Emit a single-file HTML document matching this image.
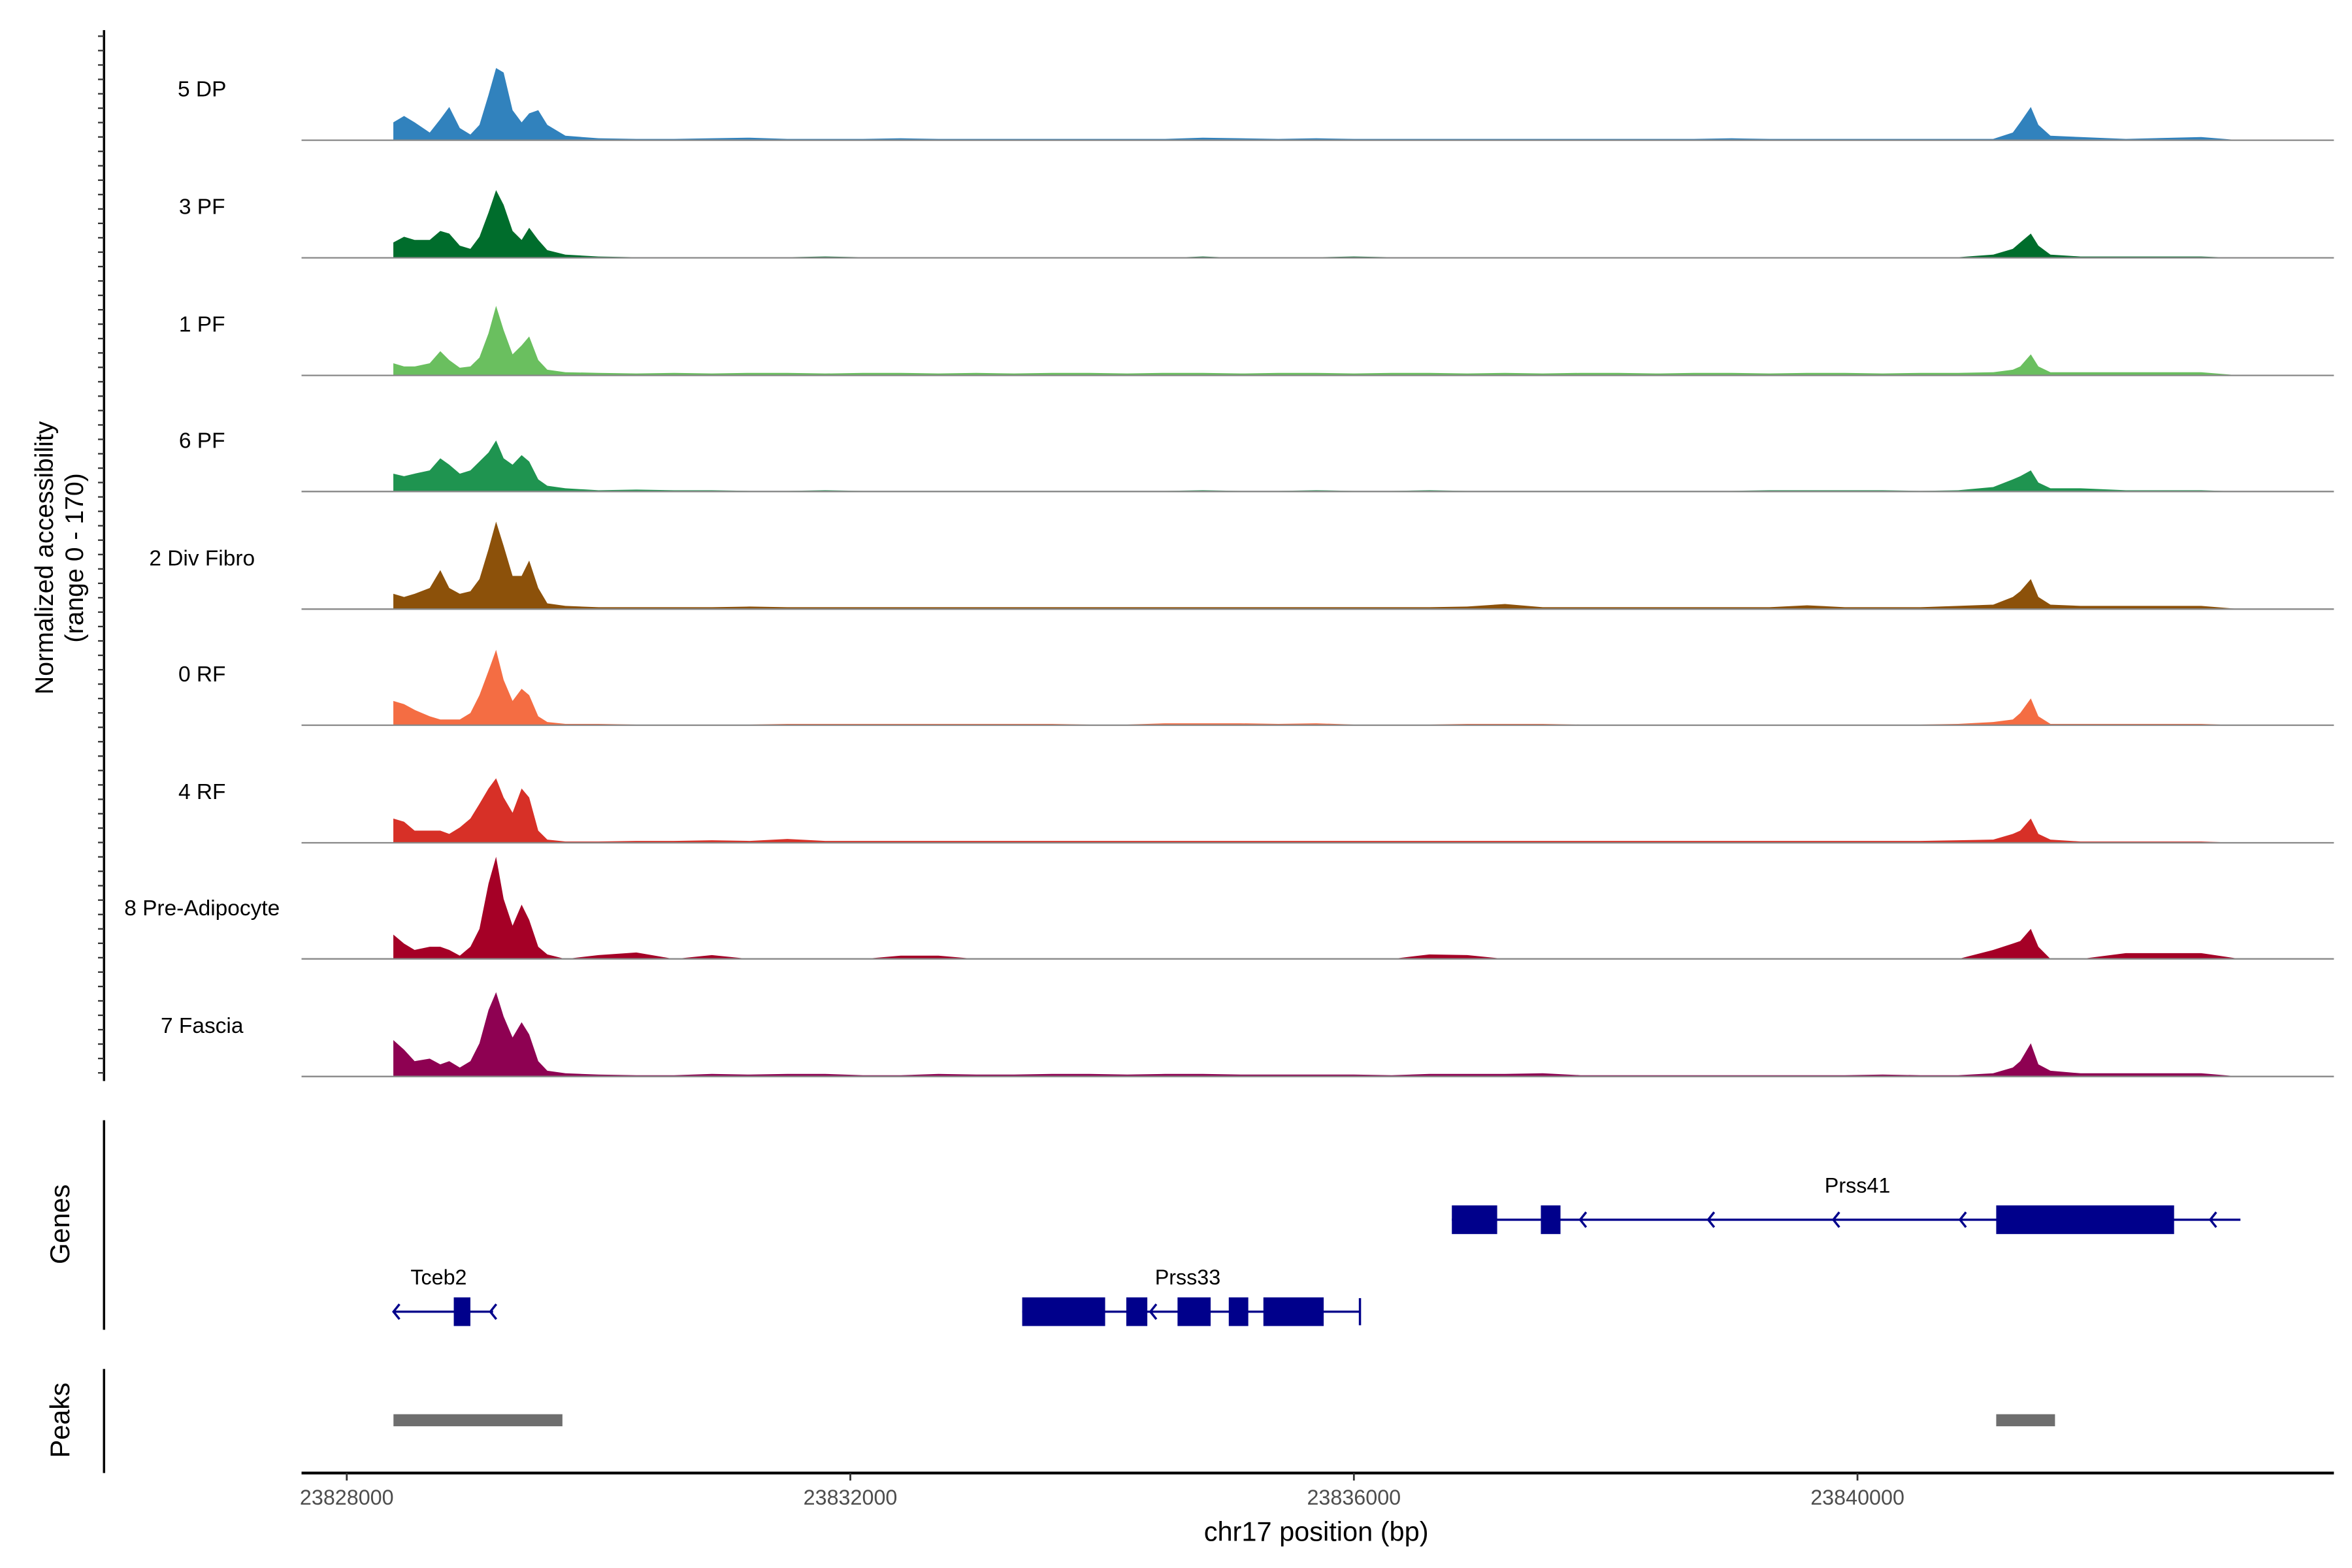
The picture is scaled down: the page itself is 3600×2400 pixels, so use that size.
<!DOCTYPE html>
<html><head><meta charset="utf-8"><style>
html,body{margin:0;padding:0;background:#fff;}
svg{display:block;font-family:"Liberation Sans",Arial,sans-serif;}
</style></head><body>
<svg id="chart" width="3600" height="2400" viewBox="0 0 1560 1040" xmlns="http://www.w3.org/2000/svg">
<rect x="0" y="0" width="1560" height="1040" fill="#fff"/>
<g id="tracks"></g>
<g id="genes"></g>
<g id="peaks"></g>
<g id="axes"></g>
</svg>
<script>
const trackNames = ["5 DP","3 PF","1 PF","6 PF","2 Div Fibro","0 RF","4 RF","8 Pre-Adipocyte","7 Fascia"];
const trackColors = ["#3182bd","#006d2c","#6abf5f","#1f9450","#8c510a","#f46d43","#d73027","#a50026","#8e0152"];
const positions = [23828370,23828455,23828539,23828659,23828743,23828814,23828898,23828982,23829054,23829126,23829186,23829246,23829317,23829389,23829449,23829521,23829593,23829737,
23830000,23830300,23830600,23830900,23831200,23831500,23831800,23832100,23832400,23832700,23833000,23833300,23833600,23833900,23834200,23834500,23834800,23835100,23835400,23835700,23836000,23836300,23836600,23836900,23837200,23837500,23837800,23838100,23838400,23838700,23839000,23839300,23839600,23839900,23840200,23840500,23840800,
23841078,23841234,23841293,23841377,23841437,23841533,23841772,23842132,23842730,23843042];
const sig5DP = [28,38,28,12,33,52,19,9,24,71,113,106,47,28,42,47,24,7,
3,2,2,3,4,2,2,2,3,2,2,2,2,2,2,2,4,3,2,3,2,2,2,2,2,2,2,2,2,2,3,2,2,2,2,2,2,
2,12,28,52,24,7,5,2,5,0];
const sig3PF = [24,33,28,28,42,38,19,14,33,71,106,83,42,28,47,28,12,5,
2,1,1,0,0,1,2,1,0,0,0,0,0,0,0,0,2,0,0,1,2,1,0,0,0,0,0,0,0,0,0,0,0,1,0,0,1,
5,14,24,38,19,5,2,2,2,0];
const sig1PF = [19,14,14,19,38,24,12,14,28,66,109,71,33,47,61,24,9,5,
4,3,4,3,4,4,3,4,4,3,4,3,4,4,3,4,4,3,4,4,3,4,4,3,4,3,4,4,3,4,4,3,4,4,3,4,4,
5,9,14,33,14,5,5,5,5,0];
const sig6PF = [28,24,28,33,52,42,28,33,47,61,80,52,42,57,47,19,9,5,
2,3,2,2,1,1,2,1,1,1,1,1,1,1,1,1,2,1,1,2,1,1,2,1,1,1,1,1,1,1,1,2,2,2,2,1,2,
7,19,24,33,14,5,5,2,2,0];
const sig2DivFibro = [24,19,24,33,61,33,24,28,47,94,137,99,52,52,76,33,9,5,
3,3,3,3,4,3,3,3,3,3,3,3,3,3,3,3,3,3,3,3,3,3,3,4,8,3,3,3,3,3,3,3,6,3,3,3,5,
7,19,28,47,19,7,5,5,5,0];
const sig0RF = [38,33,24,14,9,9,9,19,47,85,118,71,38,57,47,14,5,2,
2,1,1,1,1,2,2,2,2,2,2,2,2,1,1,3,3,3,2,3,1,1,1,2,2,2,1,1,1,1,1,1,1,1,1,1,2,
5,9,19,42,14,2,2,2,2,0];
const sig4RF = [38,33,19,19,19,14,24,38,61,85,101,71,47,85,71,19,5,2,
2,3,3,4,3,6,3,3,3,3,3,3,3,3,3,3,3,3,3,3,3,3,3,3,3,3,3,3,3,3,3,3,3,3,3,3,4,
5,14,19,38,14,5,2,2,2,0];
const sig8PreAdipocyte = [38,24,14,19,19,14,5,19,47,118,160,94,52,85,61,19,7,0,
6,10,0,6,0,0,0,0,5,5,0,0,0,0,0,0,0,0,0,0,0,0,7,6,0,0,0,0,0,0,0,0,0,0,0,0,0,
14,24,28,47,19,0,0,9,9,0];
const sig7Fascia = [57,42,24,28,19,24,14,24,52,104,132,94,61,85,66,24,9,5,
3,2,2,4,3,4,4,2,2,4,3,3,4,4,3,4,4,3,3,3,3,2,4,4,4,5,2,2,2,2,2,2,2,2,3,2,2,
5,14,24,52,19,9,5,5,5,0];
const signals = [sig5DP,sig3PF,sig1PF,sig6PF,sig2DivFibro,sig0RF,sig4RF,sig8PreAdipocyte,sig7Fascia];
const xTicks = [23828000,23832000,23836000,23840000];
const geneNames = ["Prss41","Tceb2","Prss33"];
const geneStart = [23836778,23828371,23833365];
const geneEnd = [23843042,23829162,23836048];
const geneRow = [0,1,1];
const geneLabelX = [23840000,23828730,23834680];
const exonGene = [0,0,0,1,2,2,2,2,2];
const exonStart = [23836778,23837485,23841102,23828850,23833365,23834192,23834599,23835006,23835281];
const exonEnd = [23837138,23837641,23842515,23828982,23834024,23834359,23834862,23835161,23835760];
const arrowPos = [23837797,23838814,23839808,23840814,23842802,23828371,23829140,23834383];
const peakStart = [23828371,23841102];
const peakEnd = [23829713,23841569];
const yMax = 170;

const NS="http://www.w3.org/2000/svg";
const X0=230, PXPB=334/4000;
function xs(bp){return X0+(bp-23828000)*PXPB;}
const baselines=[93,171,249,326,404,481,559,636,714];
const TH=72;
function ys(v,i){return baselines[i]-v/yMax*TH;}
function mk(tag,attrs,parent){const e=document.createElementNS(NS,tag);for(const k in attrs)e.setAttribute(k,attrs[k]);parent.appendChild(e);return e;}

const gT=document.getElementById('tracks');
signals.forEach((s,i)=>{
  let d="M"+xs(positions[0])+","+baselines[i];
  s.forEach((v,j)=>{d+=" L"+xs(positions[j]).toFixed(2)+","+ys(v,i).toFixed(2);});
  d+=" L"+xs(positions[positions.length-1])+","+baselines[i]+" Z";
  const p=mk('path',{d:d,fill:trackColors[i]},gT);
  
  
  const l=mk('line',{x1:200,x2:1548,y1:baselines[i],y2:baselines[i],stroke:'#888','stroke-width':1},gT);
  
  
  const t=mk('text',{x:134,y:baselines[i]-29,'text-anchor':'middle','font-size':14.5,fill:'#000'},gT);
  t.textContent=trackNames[i];
  
  
});

const gA=document.getElementById('axes');
function line(x1,y1,x2,y2,w,c,name){const l=mk('line',{x1:x1,y1:y1,x2:x2,y2:y2,stroke:c,'stroke-width':w},gA);return l;}
line(69,20,69,717,1.5,'#000','y-axis-line');
for(let y=24;y<=716;y+=9.55){line(65,y,69,y,1,'#333','y-axis-tick');}
line(69,743,69,882,1.5,'#000','genes-axis-line');
line(69,908,69,977,1.5,'#000','peaks-axis-line');
line(200,977,1548,977,1.8,'#000','x-axis-line');
xTicks.forEach(v=>{
  line(xs(v),977,xs(v),982,1.2,'#333','x-axis-tick');
  const t=mk('text',{x:xs(v),y:998,'text-anchor':'middle','font-size':14,fill:'#4d4d4d'},gA);
  t.textContent=String(v);
  
  
});
function rtext(x,y,txt,name,size){const t=mk('text',{x:0,y:0,transform:`translate(${x},${y}) rotate(-90)`,'text-anchor':'middle','font-size':size,fill:'#000'},gA);t.textContent=txt;}
rtext(35,370,'Normalized accessibility','y-axis-title',17);
rtext(55,370,'(range 0 - 170)','y-axis-subtitle',17);
rtext(46,812,'Genes','genes-axis-title',18);
rtext(46,942,'Peaks','peaks-axis-title',18);
const xt=mk('text',{x:873,y:1022,'text-anchor':'middle','font-size':18,fill:'#000'},gA);
xt.textContent='chr17 position (bp)';



const gG=document.getElementById('genes');
const rowY=[809,870];
const NAVY='#00008b';
geneNames.forEach((n,i)=>{
  const y=rowY[geneRow[i]];
  const l=mk('line',{x1:xs(geneStart[i]),x2:xs(geneEnd[i]),y1:y,y2:y,stroke:NAVY,'stroke-width':1.5},gG);
  
  
  const t=mk('text',{x:xs(geneLabelX[i]),y:y-18,'text-anchor':'middle','font-size':14,fill:'#000'},gG);
  t.textContent=n;
  
  
});
[[1,geneEnd[1]-240],[2,geneEnd[2]]].forEach(([g,bp])=>{
  const y=rowY[geneRow[g]];
  const l=mk('line',{x1:xs(bp),x2:xs(bp),y1:y-9,y2:y+9,stroke:NAVY,'stroke-width':1.5},gG);
  
  
});
exonGene.forEach((g,k)=>{
  const y=rowY[geneRow[g]];
  const r=mk('rect',{x:xs(exonStart[k]),y:y-9.5,width:xs(exonEnd[k])-xs(exonStart[k]),height:19,fill:NAVY},gG);
  
  
});
arrowPos.forEach(bp=>{
  let y=rowY[0];
  if(bp<23836500) y=rowY[1];
  const x=xs(bp);
  const p=mk('path',{d:`M${x+4},${y-5} L${x},${y} L${x+4},${y+5}`,fill:'none',stroke:NAVY,'stroke-width':1.5},gG);
  
  
});

const gP=document.getElementById('peaks');
peakStart.forEach((s,i)=>{
  const r=mk('rect',{x:xs(s),y:938,width:xs(peakEnd[i])-xs(s),height:8,fill:'#6e6e6e'},gP);
  
  
});
</script>
</body></html>
